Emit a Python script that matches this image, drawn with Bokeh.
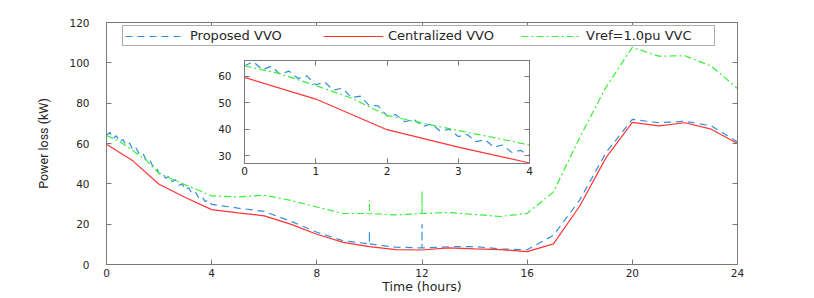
from bokeh.plotting import figure
from bokeh.models import (Range1d, LinearAxis, SingleIntervalTicker, Legend, LegendItem,
                          Column, CustomJSTickFormatter)
from bokeh.embed import file_html
from bokeh.resources import INLINE

# ---------------- data ----------------
proposed_hours = [0.0, 0.125, 0.25, 0.375, 0.5, 0.625, 0.75, 0.875,
                  1.0, 1.125, 1.25, 1.375, 1.5, 1.625, 1.75, 1.875,
                  2.0, 2.125, 2.25, 2.375, 2.5, 2.625, 2.75, 2.875,
                  3.0, 3.125, 3.25, 3.375, 3.5, 3.625, 3.75, 3.875, 4.0,
                  5, 6, 7, 8, 9, 10, 10, 10, 11, 12, 12, 12,
                  13, 14, 15, 16, 17, 18, 19, 20, 21, 22, 23, 24]
proposed_kw = [64.0, 65.5, 62.5, 63.8, 60.8, 62.0, 59.2, 60.2,
               56.8, 57.8, 54.8, 55.5, 52.0, 52.5, 49.0, 48.8,
               45.0, 45.5, 42.8, 43.8, 41.0, 42.0, 39.2, 40.0,
               37.2, 38.0, 35.3, 36.0, 33.2, 34.0, 31.2, 32.0, 29.8,
               28.0, 26.3, 21.5, 16.0, 11.8, 10.2, 16.7, 10.2, 8.6, 8.2, 20.0, 8.2,
               8.8, 8.9, 7.7, 7.3, 14.5, 32.0, 55.5, 72.0, 70.3, 71.0, 68.8, 60.8]

central_hours = [0, 1, 2, 3, 4, 5, 6, 7, 8, 9, 10, 11, 12,
                 13, 14, 15, 16, 17, 18, 19, 20, 21, 22, 23, 24]
central_kw = [59.6, 51.4, 39.8, 33.2, 27.2, 25.6, 24.1, 20.0, 15.0, 11.0, 8.9, 7.4, 7.2,
              8.2, 7.7, 7.4, 6.4, 10.2, 29.0, 53.0, 70.5, 68.7, 70.3, 67.1, 60.0]

vvc_hours = [0, 0.5, 1, 1.5, 2, 2.5, 3, 3.5, 4, 5, 6, 7, 8, 9, 10, 10, 10, 11,
             12, 12, 12, 13, 14, 15, 16, 17, 18, 19, 20, 21, 22, 23, 24]
vvc_kw = [64.0, 61.0, 56.5, 51.8, 45.2, 42.3, 39.5, 36.8, 34.0, 33.5, 34.4, 31.8, 28.5,
          25.3, 25.3, 32.0, 25.3, 24.6, 25.3, 36.4, 25.3, 25.8, 24.8, 23.8, 25.4,
          36.0, 63.0, 88.0, 107.7, 103.3, 103.5, 98.4, 87.3]

series_labels = ["Proposed VVO", "Centralized VVO", "Vref=1.0pu VVC"]
x_label = "Time (hours)"
y_label = "Power loss (kW)"

# ---------------- styles ----------------
BLUE = "#3090db"
RED = "#ff3535"
GREEN = "#38f038"
AXIS = "#7a7a7a"
TXT = "#262626"
FONT = "DejaVu Sans"
W, H = 800, 296
OFF = 0  # observed page offset of this layout


def style_axis(ax, show_labels=True, size="10.5px", standoff=3):
    ax.major_tick_in = 5
    ax.major_tick_out = 0
    ax.minor_tick_in = 0
    ax.minor_tick_out = 0
    ax.axis_line_color = AXIS
    ax.major_tick_line_color = AXIS
    ax.major_label_text_color = TXT
    ax.major_label_text_font = FONT
    if show_labels:
        ax.major_label_text_font_size = size
        ax.major_label_standoff = standoff
    else:
        ax.formatter = CustomJSTickFormatter(code="return ''")
        ax.major_label_text_font_size = "1px"
        ax.major_label_standoff = 0


def draw_series(fig):
    r1 = fig.line(proposed_hours, proposed_kw, line_color=BLUE, line_width=1.2,
                  line_dash="7 5")
    r2 = fig.line(central_hours, central_kw, line_color=RED, line_width=1.2)
    r3 = fig.line(vvc_hours, vvc_kw, line_color=GREEN, line_width=1.2,
                  line_dash="7 3 2 3")
    return [r1, r2, r3]


def add_mirror_axes(fig, xint, yint):
    top_ax = LinearAxis(ticker=SingleIntervalTicker(interval=xint, num_minor_ticks=0))
    style_axis(top_ax, show_labels=False)
    fig.add_layout(top_ax, "above")
    right_ax = LinearAxis(ticker=SingleIntervalTicker(interval=yint, num_minor_ticks=0))
    style_axis(right_ax, show_labels=False)
    fig.add_layout(right_ax, "right")


# ---------------- main figure ----------------
p = figure(width=W, height=H, x_range=Range1d(0, 24), y_range=Range1d(0, 120),
           output_backend="svg", toolbar_location=None, frame_align=False,
           min_border_left=106 - OFF, min_border_right=W - (737 - OFF),
           min_border_top=22 - OFF, min_border_bottom=H - (265 - OFF))
p.grid.visible = False
p.outline_line_color = AXIS
p.background_fill_color = "white"
p.border_fill_color = "white"

p.xaxis.ticker = SingleIntervalTicker(interval=4, num_minor_ticks=0)
p.yaxis.ticker = SingleIntervalTicker(interval=20, num_minor_ticks=0)
style_axis(p.xaxis[0], size="10.5px", standoff=4)
style_axis(p.yaxis[0], standoff=17)

p.xaxis.axis_label = x_label
p.xaxis.axis_label_text_font = FONT
p.xaxis.axis_label_text_font_style = "normal"
p.xaxis.axis_label_text_font_size = "12.5px"
p.xaxis.axis_label_text_color = TXT
p.xaxis.axis_label_standoff = -1

p.yaxis.axis_label = y_label
p.yaxis.axis_label_text_font = "Roboto"
p.yaxis.axis_label_text_font_style = "normal"
p.yaxis.axis_label_text_font_size = "12.5px"
p.yaxis.axis_label_text_color = TXT
p.yaxis.axis_label_standoff = 15

add_mirror_axes(p, 4, 20)
renderers = draw_series(p)

legend = Legend(items=[LegendItem(label=lab, renderers=[r])
                       for lab, r in zip(series_labels, renderers)],
                orientation="horizontal", location=(16, 218),
                padding=2, spacing=7, margin=0,
                glyph_width=60, glyph_height=12, label_standoff=5,
                label_width=126, label_height=12,
                label_text_font=FONT, label_text_font_size="13px",
                label_text_color=TXT,
                border_line_color="#5a5a5a", border_line_width=1,
                background_fill_color="white", background_fill_alpha=1)
p.add_layout(legend)

# ---------------- inset (transparent overlay of the same size) ----------------
inset = figure(width=W, height=H, x_range=Range1d(0, 4), y_range=Range1d(27, 66),
               output_backend="svg", toolbar_location=None, frame_align=False,
               min_border_left=244 - OFF, min_border_right=W - (529 - OFF),
               min_border_top=60 - OFF, min_border_bottom=H - (163 - OFF))
inset.grid.visible = False
inset.outline_line_color = AXIS
inset.background_fill_color = "white"
inset.border_fill_alpha = 0
inset.xaxis.ticker = SingleIntervalTicker(interval=1, num_minor_ticks=0)
inset.yaxis.ticker = SingleIntervalTicker(interval=10, num_minor_ticks=0)
style_axis(inset.xaxis[0], standoff=3)
style_axis(inset.yaxis[0], standoff=13)
add_mirror_axes(inset, 1, 10)
draw_series(inset)
inset.margin = (-H, 0, 0, 0)

layout = Column(children=[p, inset], spacing=0)

open("out.html", "w").write(file_html(layout, INLINE))
